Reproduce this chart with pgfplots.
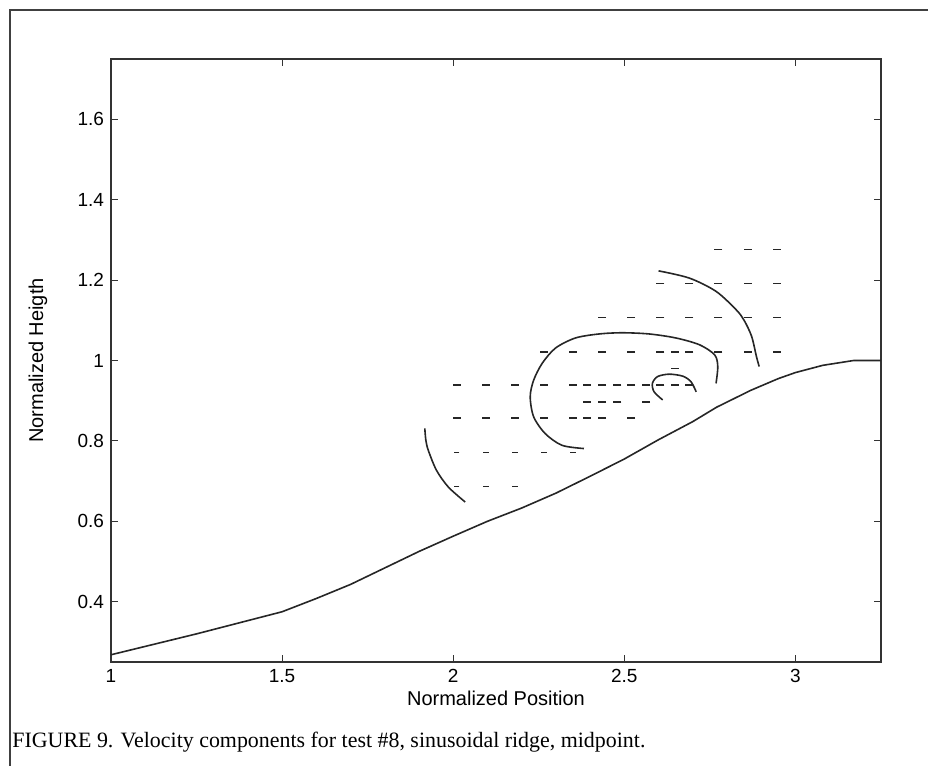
\documentclass[border=0pt]{standalone}
\usepackage{fontspec}
\setmainfont{Liberation Serif}
\newfontfamily\arial{Liberation Sans}
\usepackage{pgfplots}
\pgfplotsset{compat=1.18}
\pgfplotstableread{
x y
1.00 0.268
1.25 0.320
1.50 0.375
1.60 0.408
1.70 0.443
1.80 0.484
1.90 0.525
2.00 0.563
2.10 0.600
2.20 0.633
2.30 0.670
2.40 0.712
2.50 0.755
2.60 0.803
2.70 0.848
2.77 0.884
2.87 0.926
2.95 0.955
3.00 0.970
3.08 0.988
3.17 1.000
3.25 1.000
}\terrain
\pgfplotstableread{
x y
1.917 0.831
1.920 0.802
1.927 0.777
1.951 0.727
1.986 0.685
2.035 0.648
}\arcA
\pgfplotstableread{
x y
2.382 0.781
2.318 0.789
2.269 0.818
2.235 0.860
2.225 0.910
2.235 0.951
2.260 0.993
2.299 1.031
2.357 1.056
2.426 1.066
2.494 1.069
2.573 1.066
2.651 1.056
2.720 1.039
2.764 1.014
2.773 0.985
2.768 0.943
}\arcB
\pgfplotstableread{
x y
2.612 0.902
2.587 0.922
2.582 0.943
2.597 0.960
2.631 0.966
2.671 0.961
2.695 0.947
2.710 0.922
}\arcC
\pgfplotstableread{
x y
2.600 1.223
2.690 1.205
2.768 1.172
2.827 1.126
2.850 1.100
2.872 1.060
2.886 1.010
2.894 0.985
}\arcD
\pgfplotstableread{
x y
2.775 1.276
2.860 1.276
2.945 1.276
2.605 1.191
2.690 1.191
2.775 1.191
2.860 1.191
2.945 1.191
2.435 1.106
2.520 1.106
2.605 1.106
2.690 1.106
2.775 1.106
2.860 1.106
2.945 1.106
2.265 1.021
2.350 1.021
2.435 1.021
2.520 1.021
2.605 1.021
2.647 1.021
2.690 1.021
2.775 1.021
2.860 1.021
2.945 1.021
2.647 0.981
2.010 0.939
2.095 0.939
2.180 0.939
2.265 0.939
2.350 0.939
2.390 0.939
2.435 0.939
2.480 0.939
2.520 0.939
2.564 0.939
2.605 0.939
2.647 0.939
2.690 0.939
2.390 0.897
2.435 0.897
2.480 0.897
2.564 0.897
2.010 0.857
2.095 0.857
2.180 0.857
2.265 0.857
2.350 0.857
2.390 0.857
2.435 0.857
2.520 0.857
}\dashesA
\pgfplotstableread{
x y
2.010 0.772
2.095 0.772
2.180 0.772
2.265 0.772
2.350 0.772
2.010 0.687
2.095 0.687
2.180 0.687
}\dashesB
\begin{document}
\begin{tikzpicture}
\path[use as bounding box] (0pt,0pt) rectangle (464pt,-383pt);
\draw[line width=1pt, black!75] (5pt,-383pt) -- (5pt,-4.75pt) -- (464pt,-4.75pt);
\begin{axis}[
  at={(55.5pt,-331pt)}, anchor=south west,
  scale only axis, width=385pt, height=301.5pt,
  xmin=1, xmax=3.25, ymin=0.25, ymax=1.75,
  xtick={1,1.5,2,2.5,3},
  ytick={0.4,0.6,0.8,1,1.2,1.4,1.6},
  tick align=inside, major tick length=3.5pt,
  axis line style={line width=0.7pt, black!80},
  tick style={black!80, line width=0.5pt},
  /pgf/number format/assume math mode=true,
  tick label style={font=\arial\fontsize{9.5}{11}\selectfont},
  label style={font=\arial\fontsize{10}{12}\selectfont},
  xlabel={Normalized Position},
  ylabel={Normalized Heigth},
  xlabel style={at={(axis description cs:0.5,-0.06)}, anchor=center},
  ylabel style={at={(axis description cs:-0.095,0.5)}, anchor=center},
  clip=false,
]
\addplot[black!85, line width=0.8pt] table {\terrain};
\addplot[black!85, line width=0.8pt, smooth, tension=0.5] table {\arcA};
\addplot[black!85, line width=0.8pt, smooth, tension=0.5] table {\arcB};
\addplot[black!85, line width=0.8pt, smooth, tension=0.5] table {\arcC};
\addplot[black!85, line width=0.8pt, smooth, tension=0.5] table {\arcD};
\addplot[only marks, mark=-, mark size=2pt, black!85, mark options={line width=0.6pt}] table {\dashesA};
\addplot[only marks, mark=-, mark size=1.4pt, black!85, mark options={line width=0.6pt}] table {\dashesB};
\end{axis}
\node[anchor=west, inner sep=0pt] at (6pt,-371pt) {\resizebox{316.5pt}{!}{\fontsize{10.5}{12}\selectfont FIGURE 9. Velocity components for test \#8, sinusoidal ridge, midpoint.}};
\end{tikzpicture}
\end{document}
